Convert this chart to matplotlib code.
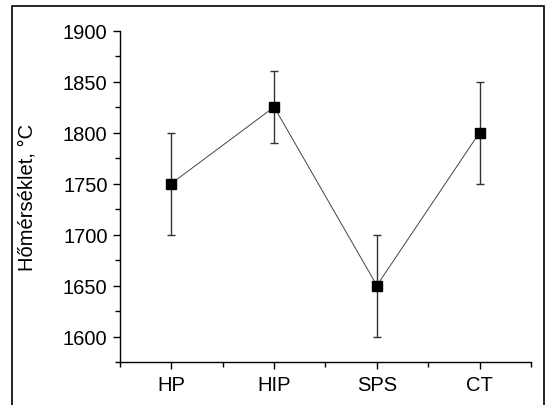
import matplotlib
matplotlib.use("Agg")
import matplotlib.pyplot as plt
from matplotlib.patches import Rectangle
from matplotlib.ticker import MultipleLocator, FixedLocator
import numpy as np

plt.rcParams["font.family"] = ["Liberation Sans", "DejaVu Sans"]

categories = ["HP", "HIP", "SPS", "CT"]
temps = [1750, 1825, 1650, 1800]
errs = [50, 35, 50, 50]

fig = plt.figure(figsize=(5.46, 4.06), dpi=100)
ax = fig.add_axes([0.2198, 0.1059, 0.7527, 0.8165])

x = np.arange(1, len(categories) + 1)
ax.errorbar(x, temps, yerr=errs, fmt="none", ecolor="#333333",
            elinewidth=1.0, capsize=2.6, capthick=1.0, zorder=2)
ax.plot(x, temps, "-", color="#444444", linewidth=0.7, zorder=3)
ax.plot(x, temps, "s", color="black", markersize=7, zorder=4)

ax.set_xlim(0.5, 4.5)
ax.set_ylim(1575, 1900)
ax.set_xticks(x)
ax.set_xticklabels(categories)
ax.xaxis.set_minor_locator(FixedLocator([0.5, 1.5, 2.5, 3.5, 4.5]))
ax.yaxis.set_major_locator(MultipleLocator(50))
ax.yaxis.set_minor_locator(MultipleLocator(25))

for s in ["top", "right"]:
    ax.spines[s].set_visible(False)
for s in ["left", "bottom"]:
    ax.spines[s].set_linewidth(1.0)

ax.tick_params(which="major", direction="out", length=5, width=1.0,
               labelsize=14.5, colors="black", pad=4)
ax.tick_params(which="minor", direction="out", length=3.5, width=1.0)
ax.set_ylabel("Hőmérséklet, °C", fontsize=14.5, labelpad=19)

# outer frame
fig.patches.append(Rectangle((12 / 546, -0.1), 532 / 546, 1.1 - 7 / 406,
                             transform=fig.transFigure, fill=False,
                             edgecolor="black", linewidth=1.2))

fig.savefig("out.png", dpi=100)
